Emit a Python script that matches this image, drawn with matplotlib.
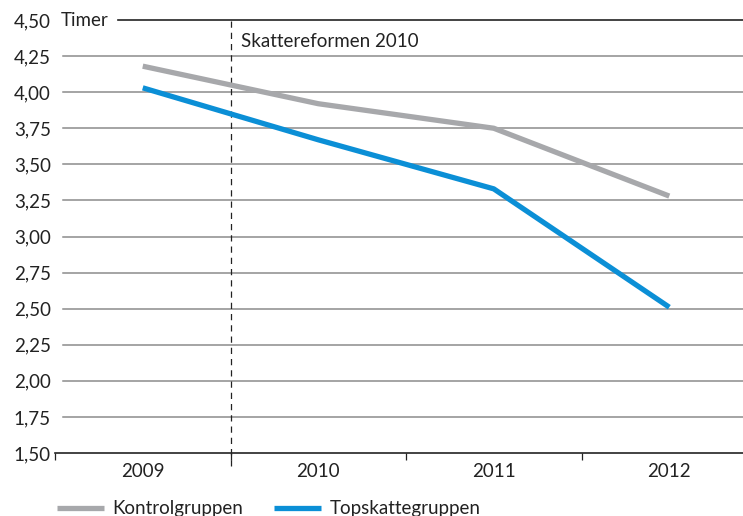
import matplotlib
matplotlib.use("Agg")
import matplotlib.pyplot as plt
import matplotlib.transforms as mtrans
import numpy as np

years = ["2009", "2010", "2011", "2012"]
kontrol = [4.18, 3.92, 3.75, 3.28]
topskat = [4.03, 3.67, 3.33, 2.51]
yticks = [1.50, 1.75, 2.00, 2.25, 2.50, 2.75, 3.00, 3.25, 3.50, 3.75, 4.00, 4.25, 4.50]
ytick_labels = ["1,50", "1,75", "2,00", "2,25", "2,50", "2,75", "3,00", "3,25", "3,50", "3,75", "4,00", "4,25", "4,50"]

plt.rcParams['font.family'] = ['Lato', 'DejaVu Sans']

W, H = 743, 516
FS = 13.5
fig = plt.figure(figsize=(W/100, H/100), dpi=100)
left = 55/W
bottom = 1 - 453/H
top = 1 - 20/H
ax = fig.add_axes([left, bottom, 1 - left, top - bottom])

x = np.arange(len(years))
xmin, xmax = -0.5, 3.42
ax.set_xlim(xmin, xmax)
ax.set_ylim(1.50, 4.50)

# gridlines
grid_start = (63 - 55) / (W - 55)
for v in yticks[1:-1]:
    ax.axhline(v, xmin=grid_start, xmax=1, color="#8c8c8c", lw=1.1, zorder=1)
timer_start = (118 - 55) / (W - 55)
ax.axhline(4.50, xmin=timer_start, xmax=1, color="#222222", lw=1.2, zorder=1, clip_on=False)

ax.plot(x, kontrol, color="#a7a8ab", lw=3.8, solid_capstyle="butt", zorder=3, label="Kontrolgruppen")
ax.plot(x, topskat, color="#0b8fd6", lw=3.8, solid_capstyle="butt", zorder=3, label="Topskattegruppen")

# dashed vertical line
ax.axvline(0.5, ymin=-0.03, ymax=1, color="#222222", lw=0.9, ls=(0, (5, 4)), zorder=2, clip_on=False)
ax.text(0.56, 4.35, "Skattereformen 2010", fontsize=FS, color="#222222", ha="left", va="center")

for s in ["top", "right", "left"]:
    ax.spines[s].set_visible(False)
ax.spines["bottom"].set_color("#222222")
ax.spines["bottom"].set_linewidth(1.2)

ax.set_yticks(yticks)
ax.set_yticklabels(ytick_labels)
ax.tick_params(axis="y", length=0, pad=3, labelsize=FS, labelcolor="#222222")

ax.set_xticks(x)
ax.set_xticklabels(years)
ax.tick_params(axis="x", which="major", length=0, pad=7, labelsize=FS, labelcolor="#222222")
ax.set_xticks([-0.5, 0.5, 1.5, 2.5], minor=True)
ax.tick_params(axis="x", which="minor", length=5, width=0.9, color="#222222", direction="out")

trans = mtrans.blended_transform_factory(fig.transFigure, ax.transData)
ax.text(61/W, 4.50, "Timer", transform=trans, fontsize=FS, color="#222222", ha="left", va="center")

leg = fig.legend(loc="lower left", bbox_to_anchor=(40/W, -0.035), ncol=2, frameon=False,
                 fontsize=FS, handlelength=2.5, handletextpad=0.45, columnspacing=1.65,
                 labelcolor="#222222")

fig.savefig("out.png", dpi=100)
